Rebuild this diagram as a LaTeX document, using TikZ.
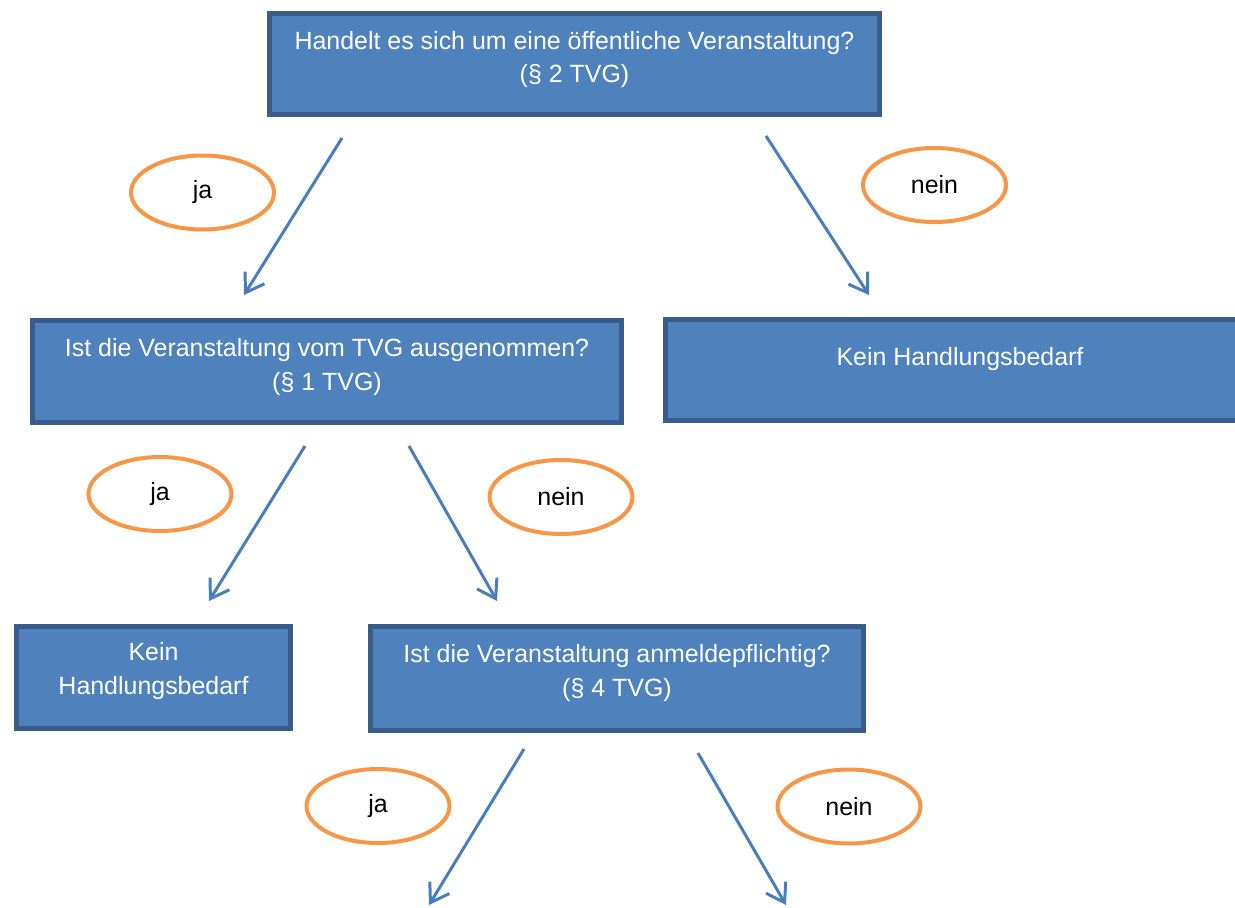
\documentclass[tikz,border=0pt]{standalone}
\usepackage{fontspec}
\setmainfont{Liberation Sans}
\usepackage{xcolor}
\usetikzlibrary{arrows.meta,shapes.geometric}
\definecolor{boxfill}{HTML}{4F81BD}
\definecolor{boxline}{HTML}{385D8A}
\definecolor{ovalline}{HTML}{F79646}
\definecolor{arrowblue}{HTML}{4A7EBB}

\begin{document}
\begin{tikzpicture}[x=0.02cm, y=-0.02cm,
    box/.style={draw=boxline, fill=boxfill, line width=0.1cm, inner sep=0pt},
    boxtext/.style={text=white, align=center, inner sep=0pt, font=\fontsize{14.2}{19.3}\selectfont},
    oval/.style={ellipse, draw=ovalline, fill=white, line width=0.08cm, minimum width=2.86cm, minimum height=1.48cm, inner sep=0pt, font=\fontsize{14.2}{19.3}\selectfont},
    arr/.style={draw=arrowblue, line width=0.06cm, -{Straight Barb[length=10pt, width=13pt]}}]
        \useasboundingbox (0, 0) rectangle (1235, 907);
        \clip (0, 0) rectangle (1235, 907);

        % question boxes and results
        \node[box, minimum width=12.2cm, minimum height=2.02cm] (oeff) at (574.5, 64) {};
        \node[boxtext] (oefft) at (574.5, 59.5) {Handelt es sich um eine öffentliche Veranstaltung?\\(§ 2 TVG)};
        \node[box, minimum width=11.78cm, minimum height=2.04cm] (ausgen) at (327, 371.5) {};
        \node[boxtext] (ausgent) at (327, 367) {Ist die Veranstaltung vom TVG ausgenommen?\\(§ 1 TVG)};
        \node[box, minimum width=11.79cm, minimum height=2.02cm] (keinA) at (960, 370) {};
        \node[boxtext] (keinAt) at (960, 359) {Kein Handlungsbedarf};
        \node[box, minimum width=5.48cm, minimum height=2.04cm] (keinB) at (153.5, 677.5) {};
        \node[boxtext] (keinBt) at (153.5, 671) {Kein\\Handlungsbedarf};
        \node[box, minimum width=9.86cm, minimum height=2.08cm] (anmeld) at (617, 678.5) {};
        \node[boxtext] (anmeldt) at (617, 673) {Ist die Veranstaltung anmeldepflichtig?\\(§ 4 TVG)};

        % answers
        \node[oval] (ja1) at (202.5, 192.5) {ja};
        \node[oval] (nein1) at (934.5, 185) {nein};
        \node[oval] (ja2) at (160, 494) {ja};
        \node[oval] (nein2) at (561, 497) {nein};
        \node[oval] (ja3) at (378, 806) {ja};
        \node[oval] (nein3) at (849, 806.5) {nein};

        % arrow ends
        \coordinate (s1) at (342, 138);  \coordinate (e1) at (244, 295);
        \coordinate (s2) at (766, 136);  \coordinate (e2) at (869, 295);
        \coordinate (s3) at (305, 446);  \coordinate (e3) at (209, 601);
        \coordinate (s4) at (409, 446);  \coordinate (e4) at (497, 601);
        \coordinate (s5) at (524, 749);  \coordinate (e5) at (429, 905);
        \coordinate (s6) at (698, 753);  \coordinate (e6) at (786, 905);
        \foreach \i in {1,...,6}
            \draw[arr] (s\i) -- (e\i);
    \end{tikzpicture}
\end{document}
